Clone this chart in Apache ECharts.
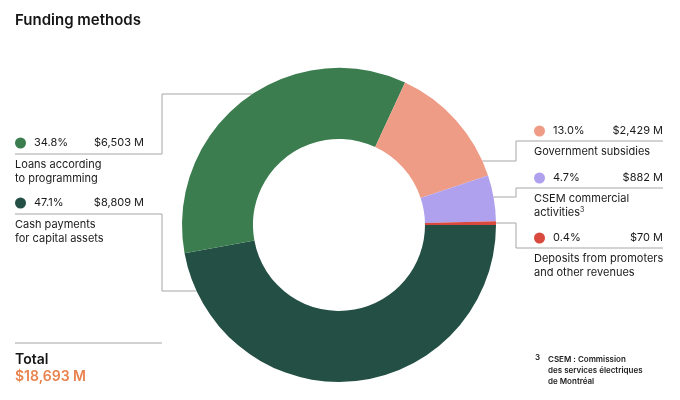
<!DOCTYPE html>
<html><head><meta charset="utf-8">
<script src="https://cdn.jsdelivr.net/npm/echarts@6/dist/echarts.min.js"></script>
<style>html,body{margin:0;padding:0;background:#fff}#c{width:680px;height:400px}</style>
</head><body><div id="c"></div>
<script>
const title = "Funding methods";
const names = ["Cash payments\nfor capital assets", "Loans according\nto programming", "Government subsidies", "CSEM commercial\nactivities{sup|3}", "Deposits from promoters\nand other revenues"];
const values = [8809, 6503, 2429, 882, 70];
const colors = ["#234f45", "#3b7d4f", "#ef9c87", "#b0a1ee", "#d9493e"];
const totalLabel = "Total";
const footnote = ["CSEM : Commission", "des services électriques", "de Montréal"];

const total = values.reduce((a, b) => a + b, 0);
const fmt = v => "$" + v.toLocaleString("en-US") + " M";
const pct = v => (v / total * 100).toFixed(1) + "%";
const FONT = "Inter, 'Liberation Sans', sans-serif";
const LINE = "#a6a6a6";

const chart = echarts.init(document.getElementById("c"), null, {renderer: "canvas"});
const cx = 339, cy = 225, R = 157, r0 = 86;
const edgeX = (y, side) => cx + side * Math.sqrt(R * R - (y - cy) * (y - cy));

const blocks = [
  {i: 1, x0: 15, x1: 162, rowY: 143, lineY: 154, cY: 94, side: -1},
  {i: 0, x0: 15, x1: 162, rowY: 203, lineY: 214, cY: 291, side: -1},
  {i: 2, x0: 516, x1: 663, rowY: 131, lineY: 141, cY: 161, side: 1},
  {i: 3, x0: 516, x1: 663, rowY: 178, lineY: 188, cY: 197, side: 1},
  {i: 4, x0: 516, x1: 663, rowY: 238, lineY: 248, cY: 223, side: 1}
];

const graphic = [];
graphic.push({type: "text", left: 15, top: 13, style: {text: title, font: "600 15px " + FONT, fill: "#161616"}});
blocks.forEach(b => {
  const ex = edgeX(b.cY, b.side);
  const pts = b.side < 0
    ? [[b.x0, b.lineY], [b.x1, b.lineY], [b.x1, b.cY], [ex, b.cY]]
    : [[b.x1, b.lineY], [b.x0, b.lineY], [b.x0, b.cY], [ex, b.cY]];
  graphic.push({type: "polyline", shape: {points: pts}, style: {stroke: LINE, lineWidth: 1, fill: null}, z: 1});
  const lx = b.side < 0 ? b.x0 : b.x0 + 18;
  const rx = b.side < 0 ? 144 : b.x1;
  graphic.push({type: "circle", shape: {cx: lx + 5.5, cy: b.rowY, r: 5.5}, style: {fill: colors[b.i]}});
  graphic.push({type: "text", x: lx + 19, y: b.rowY, style: {text: pct(values[b.i]), font: "11px " + FONT, fill: "#1a1a1a", textVerticalAlign: "middle"}});
  graphic.push({type: "text", x: rx, y: b.rowY, style: {text: fmt(values[b.i]), font: "11px " + FONT, fill: "#1a1a1a", textAlign: "right", textVerticalAlign: "middle"}});
  graphic.push({type: "text", x: lx, y: b.lineY + 4, style: {text: names[b.i], font: "11px " + FONT, fill: "#1a1a1a", lineHeight: 14,
    rich: {sup: {fontSize: 7, verticalAlign: "top", padding: [0, 0, 5, 0], fontFamily: FONT, fill: "#1a1a1a"}}}});
});
graphic.push({type: "line", shape: {x1: 15, y1: 343, x2: 162, y2: 343}, style: {stroke: LINE, lineWidth: 1}});
graphic.push({type: "text", x: 15, y: 353, style: {text: totalLabel, font: "600 14px " + FONT, fill: "#161616"}});
graphic.push({type: "text", x: 15, y: 370, style: {text: fmt(total), font: "600 14px " + FONT, fill: "#e8834f"}});
graphic.push({type: "text", x: 535, y: 354, style: {text: "3", font: "600 8px " + FONT, fill: "#1a1a1a"}});
graphic.push({type: "text", x: 548, y: 354, style: {text: footnote.join("\n"), font: "600 8px " + FONT, fill: "#1a1a1a", lineHeight: 11}});

chart.setOption({
  animation: false,
  color: colors,
  graphic: graphic,
  series: [{
    type: "pie",
    center: [cx, cy],
    radius: [r0, R],
    startAngle: 0,
    clockwise: true,
    label: {show: false},
    labelLine: {show: false},
    emphasis: {disabled: true},
    itemStyle: {borderWidth: 0},
    data: values.map((v, k) => ({value: v, name: names[k]})),
    z: 2
  }]
});
</script></body></html>
